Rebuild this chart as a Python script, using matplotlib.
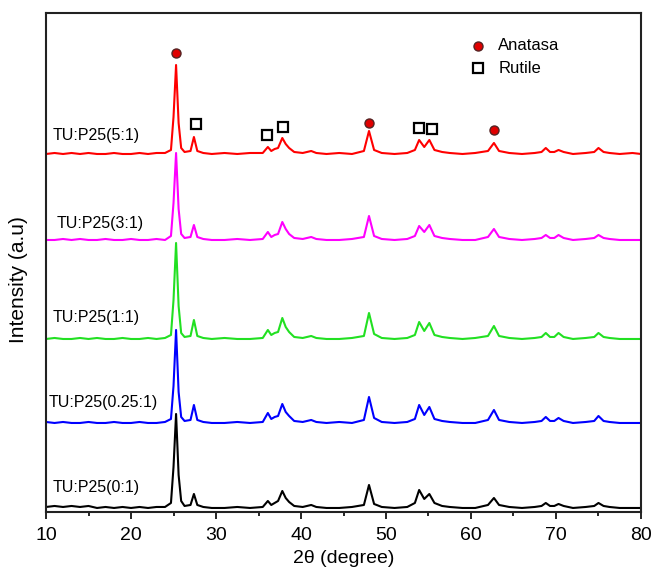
import numpy as np
import matplotlib
matplotlib.use('Agg')
import matplotlib.pyplot as plt

plt.rcParams['font.family'] = ['Liberation Sans', 'DejaVu Sans']

# 2θ grid (degree), shared by every pattern
two_theta = [10, 11, 12, 13, 14, 15, 16, 17, 18, 19,
             20, 21, 22, 23, 24, 24.7, 25.0, 25.3, 25.6, 25.9,
             26.3, 27.0, 27.4, 27.8, 28.5, 29.5, 31, 32.5, 34, 35.5,
             36.1, 36.5, 36.9, 37.3, 37.8, 38.2, 38.6, 39.2, 40.2, 41.2,
             41.8, 43, 44.5, 46, 47.4, 48.0, 48.6, 49.5, 51, 52.5,
             53.4, 53.9, 54.5, 55.1, 55.7, 56.6, 57.5, 59, 60.5, 62.0,
             62.7, 63.3, 64.5, 66, 67.5, 68.3, 68.8, 69.3, 69.8, 70.3,
             70.9, 72, 73.5, 74.5, 75.0, 75.6, 76.3, 77.5, 79, 80]

# intensities above each pattern's own baseline (a.u.)
i_5_1 = [1, 2, 1, 2, 1, 2, 1, 1, 2, 1,
         1, 2, 1, 2, 2, 5, 38, 90, 32, 7,
         3, 4, 18, 4, 2, 1, 2, 1, 2, 2,
         8, 4, 6, 7, 17, 11, 7, 3, 2, 4,
         2, 1, 2, 1, 4, 24, 5, 2, 1, 2,
         5, 15, 8, 15, 5, 3, 2, 1, 2, 4,
         12, 4, 2, 1, 2, 3, 7, 3, 3, 5,
         3, 1, 2, 3, 7, 3, 2, 1, 2, 1]
i_3_1 = [1, 1, 2, 1, 2, 1, 1, 2, 1, 1,
         2, 1, 1, 2, 1, 5, 38, 88, 32, 7,
         3, 4, 16, 4, 2, 1, 1, 2, 1, 2,
         9, 4, 6, 7, 19, 12, 7, 3, 2, 4,
         2, 1, 1, 2, 4, 25, 5, 2, 1, 2,
         5, 15, 9, 16, 5, 3, 2, 1, 1, 4,
         12, 4, 2, 1, 2, 3, 6, 3, 3, 6,
         3, 1, 2, 3, 6, 3, 2, 1, 1, 1]
i_1_1 = [1, 2, 1, 1, 2, 1, 2, 1, 1, 2,
         1, 1, 2, 1, 2, 5, 40, 97, 34, 7,
         3, 4, 20, 4, 2, 1, 2, 1, 1, 2,
         10, 5, 7, 8, 22, 13, 8, 3, 2, 4,
         2, 1, 1, 2, 4, 27, 6, 2, 1, 2,
         5, 18, 9, 17, 5, 3, 2, 1, 2, 4,
         14, 4, 2, 1, 2, 3, 7, 3, 3, 7,
         3, 1, 2, 3, 7, 3, 2, 1, 1, 1]
i_025_1 = [2, 1, 2, 1, 1, 2, 1, 1, 2, 1,
           1, 2, 1, 1, 2, 5, 38, 94, 32, 7,
           3, 4, 19, 4, 2, 1, 1, 2, 1, 2,
           11, 5, 7, 8, 20, 12, 8, 3, 2, 4,
           2, 1, 2, 1, 4, 27, 6, 2, 1, 2,
           5, 19, 9, 17, 5, 3, 2, 1, 1, 4,
           14, 4, 2, 1, 2, 3, 7, 3, 3, 6,
           3, 1, 2, 3, 8, 3, 2, 1, 1, 1]
i_0_1 = [2, 3, 2, 3, 2, 3, 1, 2, 1, 2,
         1, 2, 1, 2, 2, 6, 42, 95, 34, 8,
         3, 4, 15, 4, 2, 1, 1, 2, 1, 2,
         8, 4, 6, 8, 18, 11, 7, 3, 2, 4,
         2, 1, 1, 2, 4, 24, 5, 2, 1, 2,
         6, 19, 10, 15, 6, 3, 2, 1, 1, 4,
         11, 4, 2, 1, 2, 3, 6, 3, 3, 5,
         3, 1, 2, 3, 6, 3, 2, 1, 1, 1]

labels = ['TU:P25(5:1)', 'TU:P25(3:1)', 'TU:P25(1:1)', 'TU:P25(0.25:1)', 'TU:P25(0:1)']
patterns = [i_5_1, i_3_1, i_1_1, i_025_1, i_0_1]
colors = ['#ff0000', '#ff00ff', '#22e022', '#0000ff', '#000000']
offsets = [357, 271, 172, 88, 3]
label_pos = [(10.8, 376), (11.3, 288), (10.8, 194), (10.35, 109), (10.8, 24)]

# peak marks above the top pattern
anatase_x = [25.3, 48.0, 62.7]
anatase_y = [459, 389, 382]
rutile_x = [27.7, 36.0, 37.9, 53.9, 55.4]
rutile_y = [388, 377, 385, 384, 383]

fig = plt.figure(figsize=(6.51, 5.70), dpi=100)
ax = fig.add_axes([0.0707, 0.1018, 0.9139, 0.8754])

x = np.array(two_theta)
# bottom pattern first so upper ones are drawn on top
for lab, y, c, off, pos in zip(labels[::-1], patterns[::-1], colors[::-1],
                               offsets[::-1], label_pos[::-1]):
    ax.plot(x, np.array(y) + off, color=c, lw=1.5)
    ax.text(pos[0], pos[1], lab, fontsize=11.5, ha='left', va='center')

ax.plot(anatase_x, anatase_y, 'o', ms=6.5, mfc='#e00000', mec='#552222', mew=1.0, ls='none')
ax.plot(rutile_x, rutile_y, 's', ms=7, mfc='white', mec='black', mew=1.6, ls='none')

# legend
ax.plot([60.8], [466], 'o', ms=6.5, mfc='#e00000', mec='#552222', mew=1.0)
ax.plot([60.8], [444], 's', ms=7, mfc='white', mec='black', mew=1.6)
ax.text(63.2, 466, 'Anatasa', fontsize=12, va='center')
ax.text(63.2, 443, 'Rutile', fontsize=12, va='center')

ax.set_xlim(10, 80)
ax.set_ylim(0, 499)
ax.set_xticks(np.arange(10, 81, 10))
ax.set_xticks(np.arange(15, 80, 10), minor=True)
ax.set_yticks([])
ax.tick_params(axis='x', which='major', direction='out', length=5, width=1.2,
               labelsize=14, pad=6)
ax.tick_params(axis='x', which='minor', direction='out', length=3, width=1.2)
for s in ax.spines.values():
    s.set_linewidth(1.5)
    s.set_color('#222222')

ax.set_xlabel('2θ (degree)', fontsize=14, labelpad=4)
ax.set_ylabel('Intensity (a.u)', fontsize=15)
ax.yaxis.set_label_coords(-0.03, 0.465)

fig.savefig('out.png', dpi=100)
